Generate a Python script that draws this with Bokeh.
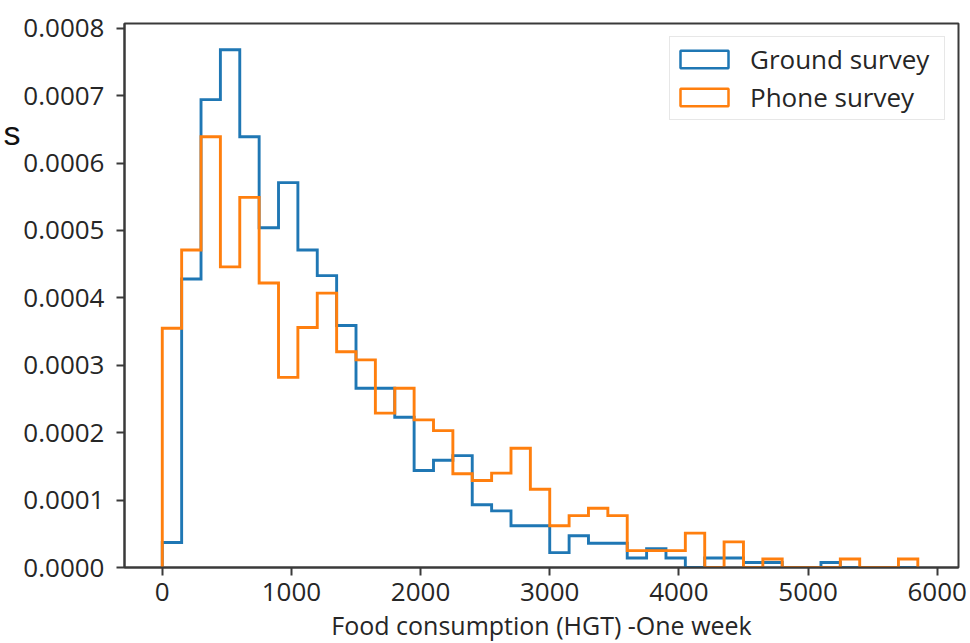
import numpy as np
from bokeh.plotting import figure
from bokeh.models import (Range1d, FixedTicker, NumeralTickFormatter, Legend,
                          LegendItem, ColumnDataSource, Title, LinearAxis,
                          CustomJSTickFormatter)
from bokeh.embed import file_html
from bokeh.resources import INLINE

# ---------------- data ----------------
bin_edges = [0, 150, 300, 450, 600, 750, 900, 1050, 1200, 1350, 1500, 1650,
             1800, 1950, 2100, 2250, 2400, 2550, 2700, 2850, 3000, 3150, 3300,
             3450, 3600, 3750, 3900, 4050, 4200, 4350, 4500, 4650, 4800, 4950,
             5100, 5250, 5400, 5550, 5700, 5850]

# densities in units of 1e-4
ground_density = [0.37, 4.28, 6.94, 7.68, 6.39, 5.04, 5.71, 4.71, 4.33, 3.59,
                  2.66, 2.66, 2.23, 1.44, 1.59, 1.66, 0.93, 0.84, 0.62, 0.62,
                  0.22, 0.47, 0.36, 0.36, 0.14, 0.28, 0.14, 0.0, 0.14, 0.14,
                  0.074, 0.074, 0.0, 0.0, 0.074, 0.0, 0.0, 0.0, 0.0]
phone_density = [3.55, 4.71, 6.39, 4.46, 5.49, 4.22, 2.82, 3.56, 4.07, 3.20,
                 3.08, 2.29, 2.66, 2.19, 2.03, 1.39, 1.29, 1.40, 1.77, 1.16,
                 0.62, 0.77, 0.88, 0.77, 0.25, 0.25, 0.25, 0.51, 0.0, 0.38,
                 0.0, 0.125, 0.0, 0.0, 0.0, 0.125, 0.0, 0.0, 0.125]
DENSITY_UNIT = 1e-4

series_names = ["Ground survey", "Phone survey"]
x_ticks = [0, 1000, 2000, 3000, 4000, 5000, 6000]
y_ticks = [0.0, 0.0001, 0.0002, 0.0003, 0.0004, 0.0005, 0.0006, 0.0007, 0.0008]
x_title = "Food consumption (HGT) -One week"
stray_text = "s"          # fragment of a cut-off label at the picture's left edge
stray_text_y = 0.000645

BLUE = "#1f77b4"
ORANGE = "#ff7f0e"
FONT = "Open Sans"
TEXT = "#262626"
SPINE = "#3a3a3a"


def step_outline(edges, heights):
    e = np.asarray(edges, dtype=float)
    h = np.asarray(heights, dtype=float) * DENSITY_UNIT
    xs = np.repeat(e, 2)
    ys = np.concatenate([[0.0], np.repeat(h, 2), [0.0]])
    return xs, ys


p = figure(width=970, height=643, output_backend="svg", toolbar_location=None,
           x_range=Range1d(-292.5, 6165), y_range=Range1d(0, 0.000807),
           min_border_left=123, min_border_right=12, min_border_top=23,
           min_border_bottom=76, background_fill_color="white",
           border_fill_color="white")

gx, gy = step_outline(bin_edges, ground_density)
px_, py_ = step_outline(bin_edges, phone_density)
p.line(gx, gy, line_color=BLUE, line_width=2.9, line_join="miter")
p.line(px_, py_, line_color=ORANGE, line_width=2.9, line_join="miter")

# legend proxies (outlined rectangles like matplotlib patches), nothing drawn
proxy = ColumnDataSource(data=dict(left=[np.nan], right=[np.nan],
                                   top=[np.nan], bottom=[np.nan]))
r_g = p.quad(left="left", right="right", top="top", bottom="bottom", source=proxy,
             fill_alpha=0, line_color=BLUE, line_width=2.5)
r_p = p.quad(left="left", right="right", top="top", bottom="bottom", source=proxy,
             fill_alpha=0, line_color=ORANGE, line_width=2.5)

legend = Legend(items=[LegendItem(label=series_names[0], renderers=[r_g]),
                       LegendItem(label=series_names[1], renderers=[r_p])],
                location="top_right", margin=13, padding=4, spacing=2,
                glyph_width=60, glyph_height=22, label_standoff=16,
                label_width=190,
                label_text_font=FONT, label_text_font_size="26px",
                label_text_color=TEXT, border_line_color="#d0d0d0",
                border_line_width=1.5, background_fill_alpha=0.85)
p.add_layout(legend)

# axes styling
p.xgrid.grid_line_color = None
p.ygrid.grid_line_color = None
p.outline_line_color = SPINE
p.outline_line_width = 2
p.outline_line_alpha = 1

p.xaxis.ticker = FixedTicker(ticks=x_ticks)
p.yaxis.ticker = FixedTicker(ticks=y_ticks)
p.yaxis.formatter = NumeralTickFormatter(format="0.0000")
for ax in (p.xaxis, p.yaxis):
    ax.axis_line_color = SPINE
    ax.axis_line_width = 2
    ax.major_tick_line_color = SPINE
    ax.major_tick_line_width = 2
    ax.major_tick_out = 8
    ax.major_tick_in = 0
    ax.minor_tick_line_color = None
    ax.major_label_text_font = FONT
    ax.major_label_text_font_size = "26px"
    ax.major_label_text_color = TEXT
p.xaxis.major_label_standoff = 7
p.yaxis.major_label_standoff = 12

# x axis title below the axis (the picture cuts it at its bottom edge)
p.add_layout(Title(text=x_title, align="center", text_font=FONT,
                   text_font_size="25px", text_font_style="normal",
                   text_color=TEXT, standoff=4, offset=0), "below")

# stray glyph at the left edge of the picture, as an extra bare axis
stray_axis = LinearAxis(ticker=FixedTicker(ticks=[stray_text_y]),
                        formatter=CustomJSTickFormatter(code="return '%s';" % stray_text),
                        axis_line_color=None, major_tick_line_color=None,
                        minor_tick_line_color=None, major_tick_out=0,
                        major_tick_in=0, major_label_standoff=0,
                        major_label_text_font="Liberation Sans",
                        major_label_text_font_size="34px",
                        major_label_text_color="#111111")
p.add_layout(stray_axis, "left")

open("out.html", "w").write(file_html(p, INLINE))
